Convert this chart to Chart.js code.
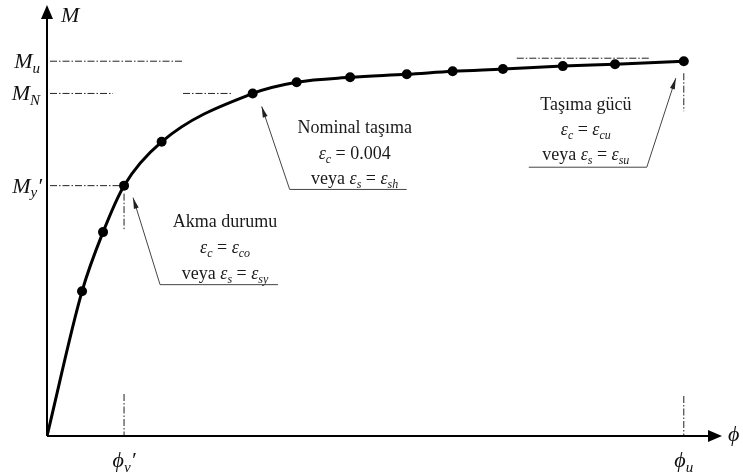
<!DOCTYPE html>
<html lang="en">
<head>
<meta charset="UTF-8">
<title>Moment - Curvature</title>
<script src="https://cdn.jsdelivr.net/npm/chart.js"></script>
<style>
  html, body { margin: 0; padding: 0; background: #fff; }
  #wrap { width: 743px; height: 472px; }
</style>
</head>
<body>
<div id="wrap"><canvas id="mc"></canvas></div>
<script>
// curvature (phi) and moment (M), phi_u = 100, M_u = 100
const phi = [0, 5.5, 8.8, 12.1, 18.0, 32.3, 39.2, 47.6, 56.5, 63.7, 71.6, 81.0, 89.2, 100];
const moment = [0, 38.6, 54.4, 66.8, 78.5, 91.4, 94.4, 95.7, 96.5, 97.3, 97.9, 98.7, 99.2, 100];

// key levels
const Mu = 100, MN = 91.4, My = 66.8;
const phiY = 12.1, phiU = 100;
const xMax = 106, yMax = 115;

const SERIF = '"Liberation Serif", "DejaVu Serif", serif';

// rich text: [text, style] where style n = normal, i = italic, s = italic subscript
function richWidth(ctx, parts, size) {
    let w = 0;
    parts.forEach(([t, st]) => {
        ctx.font = fontFor(st, size);
        w += ctx.measureText(t).width;
    });
    return w;
}
function fontFor(st, size) {
    if (st === 'i') return `italic ${size}px ${SERIF}`;
    if (st === 's') return `italic ${Math.round(size * 0.68)}px ${SERIF}`;
    return `${size}px ${SERIF}`;
}
function drawRich(ctx, parts, x, y, size, align) {
    const w = richWidth(ctx, parts, size);
    let cx = align === 'center' ? x - w / 2 : (align === 'right' ? x - w : x);
    ctx.textBaseline = 'alphabetic';
    ctx.textAlign = 'left';
    parts.forEach(([t, st]) => {
        ctx.font = fontFor(st, size);
        const dy = st === 's' ? size * 0.22 : 0;
        ctx.fillText(t, cx, y + dy);
        cx += ctx.measureText(t).width;
    });
}

function dashDot(ctx, x1, y1, x2, y2) {
    ctx.save();
    ctx.strokeStyle = '#222';
    ctx.lineWidth = 1;
    ctx.setLineDash([7, 2, 1.5, 2]);
    ctx.beginPath();
    ctx.moveTo(x1, y1);
    ctx.lineTo(x2, y2);
    ctx.stroke();
    ctx.restore();
}

function arrowHead(ctx, fx, fy, tx, ty, len, half) {
    const a = Math.atan2(ty - fy, tx - fx);
    ctx.beginPath();
    ctx.moveTo(tx, ty);
    ctx.lineTo(tx - len * Math.cos(a) + half * Math.sin(a), ty - len * Math.sin(a) - half * Math.cos(a));
    ctx.lineTo(tx - len * Math.cos(a) - half * Math.sin(a), ty - len * Math.sin(a) + half * Math.cos(a));
    ctx.closePath();
    ctx.fill();
}

// annotation blocks: anchor index, text lines, offsets from anchor point (px)
const notes = [
    { at: 3, lines: [
        [['Akma durumu', 'n']],
        [['ε', 'i'], ['c', 's'], [' = ', 'n'], ['ε', 'i'], ['co', 's']],
        [['veya ', 'n'], ['ε', 'i'], ['s', 's'], [' = ', 'n'], ['ε', 'i'], ['sy', 's']]
      ], cx: 101, ys: [41, 67, 93], ul: [36, 154, 99], tip: [9, 12], from: 'left' },
    { at: 5, lines: [
        [['Nominal taşıma', 'n']],
        [['ε', 'i'], ['c', 's'], [' = 0.004', 'n']],
        [['veya ', 'n'], ['ε', 'i'], ['s', 's'], [' = ', 'n'], ['ε', 'i'], ['sh', 's']]
      ], cx: 102, ys: [40, 66, 91], ul: [37, 154, 96], tip: [9, 13], from: 'left' },
    { at: 13, lines: [
        [['Taşıma gücü', 'n']],
        [['ε', 'i'], ['c', 's'], [' = ', 'n'], ['ε', 'i'], ['cu', 's']],
        [['veya ', 'n'], ['ε', 'i'], ['s', 's'], [' = ', 'n'], ['ε', 'i'], ['su', 's']]
      ], cx: -98, ys: [49, 74, 99], ul: [-155, -37, 106], tip: [-8, 17], from: 'right' }
];

const decor = {
    id: 'decor',
    beforeDatasetsDraw(chart) {
        const { ctx, scales: { x, y } } = chart;
        const x0 = x.getPixelForValue(0), y0 = y.getPixelForValue(0);
        const yu = y.getPixelForValue(Mu), yn = y.getPixelForValue(MN), yy = y.getPixelForValue(My);
        const xy = x.getPixelForValue(phiY), xu = x.getPixelForValue(phiU);

        // reference dash-dot lines
        dashDot(ctx, x0 + 3, yu, x0 + 136, yu);
        dashDot(ctx, xu - 167, yu - 3, xu - 34, yu - 3);
        dashDot(ctx, x0 + 3, yn, x0 + 66, yn);
        dashDot(ctx, x0 + 136, yn, x0 + 186, yn);
        dashDot(ctx, x0 + 3, yy, xy - 4, yy);
        dashDot(ctx, xy, yy + 8, xy, yy + 44);
        dashDot(ctx, xy, y0 - 42, xy, y0);
        dashDot(ctx, xu, yu + 12, xu, yu + 50);
        dashDot(ctx, xu, y0 - 40, xu, y0);

        // axes with arrows
        ctx.save();
        ctx.strokeStyle = '#000';
        ctx.fillStyle = '#000';
        ctx.lineWidth = 2;
        ctx.beginPath();
        ctx.moveTo(x0, y0);
        ctx.lineTo(x0, chart.chartArea.top + 8);
        ctx.moveTo(x0, y0);
        ctx.lineTo(chart.chartArea.right - 8, y0);
        ctx.stroke();
        arrowHead(ctx, x0, y0, x0, chart.chartArea.top, 14, 6);
        arrowHead(ctx, x0, y0, chart.chartArea.right, y0, 14, 6);

        // axis labels
        ctx.fillStyle = '#111';
        drawRich(ctx, [['M', 'i']], x0 + 14, chart.chartArea.top + 17, 22, 'left');
        drawRich(ctx, [['ϕ', 'i']], chart.chartArea.right + 6, y0 + 5, 22, 'left');
        drawRich(ctx, [['M', 'i'], ['u', 's']], x0 - 7, yu + 7, 22, 'right');
        drawRich(ctx, [['M', 'i'], ['N', 's']], x0 - 7, yn + 7, 22, 'right');
        drawRich(ctx, [['M', 'i'], ['y', 's'], ['′', 'i']], x0 - 5, yy + 7, 22, 'right');
        drawRich(ctx, [['ϕ', 'i'], ['y', 's'], ['′', 'i']], xy, y0 + 31, 22, 'center');
        drawRich(ctx, [['ϕ', 'i'], ['u', 's']], xu, y0 + 31, 22, 'center');
        ctx.restore();
    },
    afterDatasetsDraw(chart) {
        const { ctx, scales: { x, y } } = chart;
        ctx.save();
        notes.forEach(n => {
            const px = x.getPixelForValue(phi[n.at]);
            const py = y.getPixelForValue(moment[n.at]);
            ctx.fillStyle = '#1a1a1a';
            n.lines.forEach((ln, i) => drawRich(ctx, ln, px + n.cx, py + n.ys[i], 18, 'center'));
            // underline + leader with arrow
            const uy = py + n.ul[2];
            const sx = n.from === 'left' ? px + n.ul[0] : px + n.ul[1];
            const tx = px + n.tip[0], ty = py + n.tip[1];
            ctx.strokeStyle = '#444';
            ctx.fillStyle = '#222';
            ctx.lineWidth = 1;
            ctx.beginPath();
            ctx.moveTo(px + n.ul[0], uy);
            ctx.lineTo(px + n.ul[1], uy);
            ctx.moveTo(sx, uy);
            ctx.lineTo(tx, ty);
            ctx.stroke();
            arrowHead(ctx, sx, uy, tx, ty, 11, 2.5);
        });
        ctx.restore();
    }
};

new Chart(document.getElementById('mc'), {
    type: 'line',
    data: {
        datasets: [{
            data: phi.map((v, i) => ({ x: v, y: moment[i] })),
            borderColor: '#000',
            backgroundColor: '#000',
            borderWidth: 3,
            pointRadius: phi.map((v, i) => i === 0 ? 0 : 5),
            pointBackgroundColor: '#000',
            pointBorderWidth: 0,
            cubicInterpolationMode: 'monotone',
            fill: false
        }]
    },
    options: {
        responsive: true,
        maintainAspectRatio: false,
        animation: false,
        layout: { padding: { left: 47, right: 21, top: 3, bottom: 36 } },
        plugins: { legend: { display: false }, tooltip: { enabled: false } },
        scales: {
            x: { type: 'linear', min: 0, max: xMax, display: false },
            y: { type: 'linear', min: 0, max: yMax, display: false }
        }
    },
    plugins: [decor]
});
</script>
</body>
</html>
